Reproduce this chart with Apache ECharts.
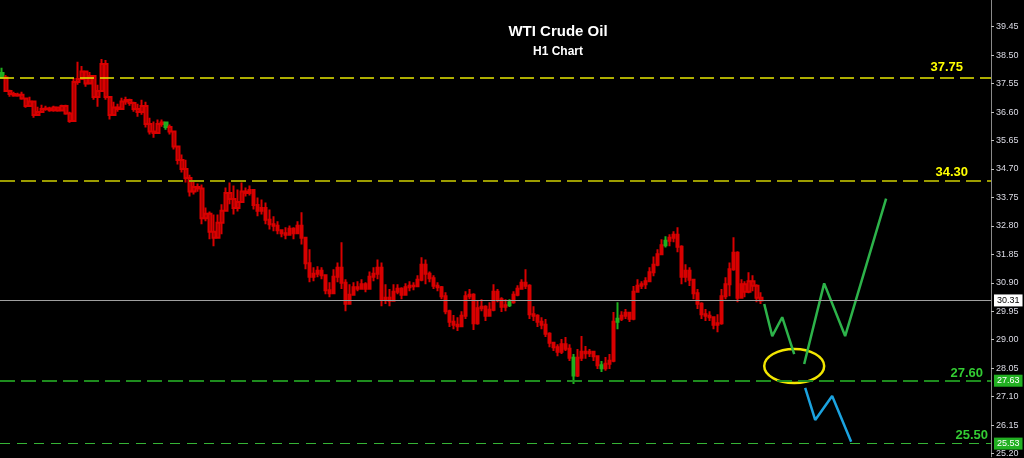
<!DOCTYPE html>
<html>
<head>
<meta charset="utf-8">
<title>WTI Crude Oil H1 Chart</title>
<script src="https://cdn.jsdelivr.net/npm/echarts@6.0.0/dist/echarts.min.js"></script>
<style>
html, body { margin: 0; padding: 0; background: #000; }
#chart { width: 1024px; height: 458px; }
</style>
</head>
<body>
<div id="chart"></div>
<script>
// hourly bars (one bar per slot)
var highs = [
  38.08, 37.84, 37.34, 37.28, 37.24, 37.28, 37.08, 37.11, 36.96, 36.78,
  36.84, 36.81, 36.78, 36.81, 36.76, 36.84, 36.84, 36.61, 37.74, 38.28,
  38.14, 37.96, 37.94, 37.82, 37.51, 38.37, 38.34, 37.12, 36.94, 36.88,
  37.08, 37.11, 37.04, 36.94, 36.88, 37.01, 36.94, 36.41, 36.28, 36.35,
  36.35, 36.28, 36.18, 35.97, 35.47, 35.18, 35.01, 34.51, 34.28, 34.21,
  34.18, 33.41, 33.28, 33.18, 33.18, 33.52, 34.08, 34.25, 34.15, 34.01,
  34.25, 34.08, 34.15, 34.02, 33.75, 33.68, 33.58, 33.35, 33.12, 32.95,
  32.68, 32.75, 32.81, 32.75, 32.95, 33.25, 32.42, 32.02, 31.42, 31.45,
  31.42, 31.18, 30.92, 31.35, 31.58, 32.25, 31.02, 30.85, 30.92, 30.95,
  31.02, 30.92, 31.28, 31.42, 31.68, 31.58, 30.85, 30.69, 30.85, 30.85,
  30.75, 30.88, 30.95, 30.92, 31.15, 31.75, 31.68, 31.28, 31.15, 30.92,
  30.79, 30.58, 30.00, 29.82, 29.75, 29.95, 30.62, 30.69, 30.55, 30.29,
  30.35, 30.15, 30.25, 30.85, 30.69, 30.42, 30.35, 30.35, 30.62, 30.82,
  31.02, 31.35, 30.85, 30.12, 29.85, 29.75, 29.69, 29.25, 28.92, 28.85,
  29.02, 29.09, 28.85, 28.52, 28.69, 29.12, 28.79, 28.69, 28.62, 28.48,
  28.29, 28.42, 28.52, 29.92, 30.25, 29.95, 30.02, 29.92, 30.79, 31.02,
  30.95, 31.08, 31.42, 31.78, 32.02, 32.35, 32.45, 32.52, 32.62, 32.75,
  32.15, 31.52, 31.42, 31.02, 30.69, 30.25, 30.02, 29.95, 29.75, 29.85,
  30.69, 31.08, 31.58, 32.42, 31.95, 31.02, 30.95, 31.25, 31.15, 30.85,
  30.58
];
var lows = [
  37.72, 37.28, 37.11, 37.11, 37.11, 37.01, 36.74, 36.78, 36.41, 36.48,
  36.58, 36.64, 36.61, 36.61, 36.61, 36.64, 36.51, 36.24, 36.28, 37.51,
  37.68, 37.44, 37.52, 37.01, 36.78, 37.28, 37.01, 36.35, 36.48, 36.61,
  36.68, 36.84, 36.81, 36.61, 36.44, 36.51, 36.08, 35.85, 35.74, 35.88,
  36.11, 36.01, 35.85, 35.35, 34.85, 34.58, 34.25, 33.78, 33.85, 33.94,
  32.85, 32.95, 32.35, 32.12, 32.38, 32.52, 33.28, 33.52, 33.18, 33.28,
  33.58, 33.78, 33.81, 33.35, 33.12, 33.18, 32.85, 32.68, 32.62, 32.52,
  32.42, 32.35, 32.48, 32.35, 32.55, 32.18, 31.35, 30.92, 30.95, 31.08,
  31.02, 30.52, 30.42, 30.52, 30.92, 30.69, 29.95, 30.19, 30.48, 30.62,
  30.69, 30.58, 30.69, 30.95, 31.02, 30.12, 30.19, 30.12, 30.28, 30.52,
  30.35, 30.48, 30.62, 30.65, 30.75, 30.95, 30.85, 30.92, 30.69, 30.62,
  30.35, 29.85, 29.42, 29.35, 29.29, 29.42, 29.69, 30.35, 29.32, 29.50,
  29.95, 29.62, 29.79, 29.95, 30.25, 29.92, 29.95, 30.09, 30.20, 30.45,
  30.69, 30.69, 29.69, 29.62, 29.42, 29.35, 29.09, 28.75, 28.62, 28.45,
  28.52, 28.62, 28.29, 27.52, 27.75, 28.29, 28.36, 28.42, 28.29, 28.02,
  27.92, 27.96, 28.02, 28.25, 29.35, 29.62, 29.69, 29.59, 29.65, 30.58,
  30.69, 30.69, 30.95, 31.12, 31.45, 31.85, 32.08, 32.12, 32.25, 31.92,
  30.85, 30.92, 30.79, 30.35, 30.02, 29.69, 29.62, 29.62, 29.35, 29.25,
  29.50, 30.35, 30.45, 31.30, 30.25, 30.38, 30.42, 30.55, 30.62, 30.25,
  30.19
];
var closes = [
  37.75, 37.30, 37.20, 37.15, 37.18, 37.05, 36.80, 36.95, 36.50, 36.60,
  36.70, 36.72, 36.66, 36.75, 36.65, 36.80, 36.55, 36.30, 37.60, 37.70,
  37.95, 37.55, 37.80, 37.10, 37.30, 38.20, 37.10, 36.50, 36.75, 36.70,
  36.95, 37.00, 36.90, 36.70, 36.60, 36.80, 36.20, 35.95, 35.90, 36.20,
  36.25, 36.10, 35.95, 35.45, 35.00, 34.70, 34.40, 33.95, 34.10, 34.05,
  33.05, 33.20, 32.60, 32.40, 32.90, 33.30, 33.90, 33.70, 33.40, 33.60,
  33.95, 33.90, 34.00, 33.50, 33.30, 33.40, 33.00, 32.85, 32.80, 32.65,
  32.55, 32.50, 32.70, 32.55, 32.80, 32.40, 31.55, 31.10, 31.20, 31.30,
  31.15, 30.65, 30.55, 31.10, 31.40, 30.90, 30.20, 30.50, 30.75, 30.70,
  30.85, 30.70, 31.10, 31.20, 31.40, 30.35, 30.40, 30.30, 30.60, 30.70,
  30.50, 30.75, 30.80, 30.78, 31.00, 31.50, 31.20, 31.05, 30.80, 30.75,
  30.45, 29.95, 29.60, 29.50, 29.45, 29.80, 30.45, 30.50, 29.55, 30.05,
  30.10, 29.80, 30.00, 30.60, 30.35, 30.10, 30.15, 30.25, 30.50, 30.70,
  30.90, 30.80, 29.85, 29.80, 29.60, 29.50, 29.20, 28.90, 28.75, 28.60,
  28.85, 28.70, 28.40, 27.80, 28.40, 28.60, 28.55, 28.60, 28.45, 28.15,
  28.05, 28.20, 28.30, 29.60, 29.70, 29.80, 29.90, 29.70, 30.60, 30.80,
  30.85, 30.95, 31.25, 31.50, 31.85, 32.15, 32.30, 32.40, 32.50, 32.10,
  31.10, 31.30, 31.00, 30.55, 30.20, 29.85, 29.80, 29.75, 29.50, 29.55,
  30.45, 30.85, 31.35, 31.90, 30.40, 30.85, 30.60, 30.95, 30.80, 30.40,
  30.31
];
var firstOpen = 37.90;
var greenBars = [0, 41, 127, 143, 150, 154, 166];
var slotCount = 248;

// right price scale
var priceTicks = [25.20, 26.15, 27.10, 28.05, 29.00, 29.95, 30.90, 31.85, 32.80,
                  33.75, 34.70, 35.65, 36.60, 37.55, 38.50, 39.45];
var priceMin = 25.09, priceMax = 40.34;

// horizontal levels
var levelPrices = [37.75, 34.30, 27.63, 25.53];
var levelTexts = ['37.75', '34.30', '27.60', '25.50'];
var lastPrice = 30.31;

// projected paths [slot, price]
var bullPathA = [[190.75, 30.19], [192.75, 29.12], [195.25, 29.75], [198.25, 28.52]];
var bullPathB = [[200.75, 28.19], [205.75, 30.88], [211, 29.12], [221.25, 33.71]];
var bearPath = [[201, 27.39], [203.5, 26.32], [207.75, 27.12], [212.5, 25.59]];
// [slot, price, half width in slots, half height in price]
var zoneMark = [198.25, 28.12, 7.5, 0.57];

var slots = [];
for (var s = 0; s < slotCount; s++) slots.push(String(s));

var red = '#8c0000', redEdge = '#d80000', green = '#1f9e1f';
var bars = [];
for (var i = 0; i < closes.length; i++) {
  var open = i === 0 ? firstOpen : closes[i - 1];
  var item = { value: [open, closes[i], lows[i], highs[i]] };
  if (greenBars.indexOf(i) >= 0) {
    item.itemStyle = { color: green, color0: green, borderColor: '#1fb01f', borderColor0: '#1fb01f' };
  }
  bars.push(item);
}

var levelStyles = [
  { color: '#e6e600', width: 1.5, type: [14, 6], text: '#ffff00', dist: [28, 4] },
  { color: '#9c9c00', width: 2, type: [15, 6], text: '#ffff00', dist: [23, 2] },
  { color: '#1e8c1e', width: 2, type: [15, 6], text: '#33cc33', dist: [8, 1] },
  { color: '#36b436', width: 1, type: [10, 7], text: '#33cc33', dist: [3, 2] }
];

var markData = [];
levelPrices.forEach(function (p, k) {
  var st = levelStyles[k];
  markData.push({
    yAxis: p,
    lineStyle: { color: st.color, width: st.width, type: st.type },
    label: {
      show: true, position: 'insideEndTop', formatter: levelTexts[k],
      color: st.text, fontSize: 13, fontWeight: 'bold',
      fontFamily: 'Liberation Sans', distance: st.dist
    }
  });
});
// price boxes on the scale
markData.push({
  yAxis: lastPrice,
  lineStyle: { color: '#a0a0a0', width: 1, type: 'solid' },
  label: {
    show: true, position: 'end', formatter: lastPrice.toFixed(2),
    backgroundColor: '#ffffff', color: '#000000', fontSize: 9,
    fontFamily: 'Liberation Sans', padding: [2, 3, 1, 3], distance: 3
  }
});
[levelPrices[2], levelPrices[3]].forEach(function (p) {
  markData.push({
    yAxis: p,
    lineStyle: { color: 'rgba(0,0,0,0)', width: 1 },
    label: {
      show: true, position: 'end', formatter: p.toFixed(2),
      backgroundColor: '#22b022', color: '#ffffff', fontSize: 9,
      fontFamily: 'Liberation Sans', padding: [2, 3, 1, 3], distance: 3
    }
  });
});

var chart = echarts.init(document.getElementById('chart'));
chart.setOption({
  backgroundColor: '#000000',
  animation: false,
  title: [
    { text: 'WTI Crude Oil', left: 553, top: 19, textAlign: 'center',
      textStyle: { color: '#ffffff', fontSize: 15, fontWeight: 'bold', fontFamily: 'Liberation Sans' } },
    { text: 'H1 Chart', left: 553, top: 41, textAlign: 'center',
      textStyle: { color: '#ffffff', fontSize: 12, fontWeight: 'bold', fontFamily: 'Liberation Sans' } }
  ],
  grid: { left: 0, right: 33, top: 0, bottom: 0, containLabel: false },
  xAxis: [
    { type: 'category', data: slots, show: false, boundaryGap: true },
    { type: 'value', min: -0.5, max: slotCount - 0.5, show: false }
  ],
  yAxis: {
    type: 'value', position: 'right', min: priceMin, max: priceMax,
    splitLine: { show: false },
    axisLine: { show: true, onZero: false, lineStyle: { color: '#8a8a8a', width: 1 } },
    axisTick: { show: true, customValues: priceTicks, length: 3, lineStyle: { color: '#c0c0c0' } },
    axisLabel: {
      customValues: priceTicks, color: '#dcdce6', fontSize: 9, margin: 5,
      fontFamily: 'Liberation Sans',
      formatter: function (v) { return v.toFixed(2); }
    }
  },
  series: [
    {
      type: 'candlestick', xAxisIndex: 0, data: bars, barWidth: 3,
      itemStyle: { color: red, color0: red, borderColor: redEdge, borderColor0: redEdge, borderWidth: 2 },
      markLine: { silent: true, symbol: ['none', 'none'], animation: false, data: markData }
    },
    {
      type: 'line', xAxisIndex: 1, data: bullPathA, symbol: 'none',
      lineStyle: { color: '#2db34a', width: 2.5 }
    },
    {
      type: 'line', xAxisIndex: 1, data: bullPathB, symbol: 'none',
      lineStyle: { color: '#2db34a', width: 2.5 }
    },
    {
      type: 'line', xAxisIndex: 1, data: bearPath, symbol: 'none',
      lineStyle: { color: '#1ba3e0', width: 2.5 }
    },
    {
      type: 'custom', xAxisIndex: 1, data: [zoneMark],
      renderItem: function (params, api) {
        var c = api.coord([api.value(0), api.value(1)]);
        var sz = api.size([api.value(2), api.value(3)]);
        return {
          type: 'ellipse',
          shape: { cx: c[0], cy: c[1], rx: sz[0], ry: sz[1] },
          style: { fill: 'none', stroke: '#f2e600', lineWidth: 2.5 }
        };
      }
    }
  ]
});
</script>
</body>
</html>
